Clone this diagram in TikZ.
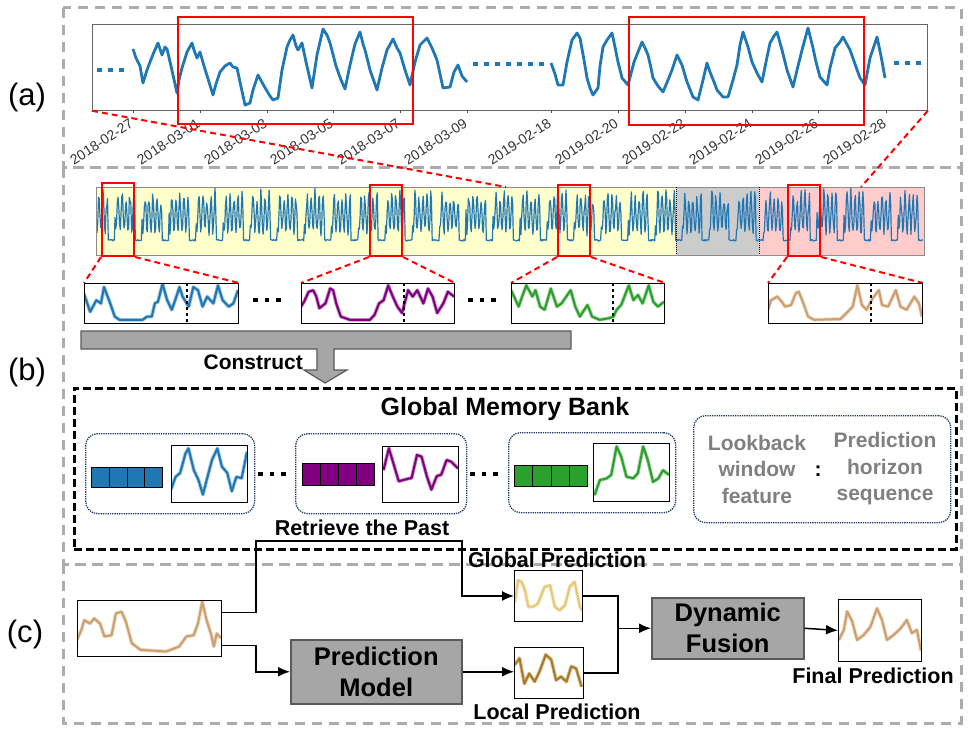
\documentclass[tikz,border=0pt]{standalone}
\usepackage{fontspec}
\setmainfont{Liberation Sans}
\usetikzlibrary{arrows.meta,calc}
\definecolor{tabblue}{RGB}{31,119,180}
\definecolor{framegray}{RGB}{172,172,172}
\definecolor{ybg}{RGB}{255,255,204}
\definecolor{gbg}{RGB}{204,204,204}
\definecolor{pbg}{RGB}{255,204,204}
\definecolor{mpurple}{RGB}{128,0,128}
\definecolor{mgreen}{RGB}{44,160,44}
\definecolor{mtan}{RGB}{205,160,110}
\definecolor{ltan}{RGB}{230,200,120}
\definecolor{dtan}{RGB}{170,122,38}
\definecolor{boxgray}{RGB}{166,166,166}
\definecolor{boxedge}{RGB}{90,90,90}
\definecolor{legray}{RGB}{128,128,128}
\definecolor{navy}{RGB}{31,56,100}
\newcommand{\tsplot}[5]{%
  \begin{scope}[shift={(#1.north west)}, x=#2pt, y=-#3pt]
    \clip (0,0) rectangle (1,1);
    \draw[#4!45, line width=3.6pt, line join=round] plot coordinates {#5};
    \draw[#4, line width=2pt, line join=round] plot coordinates {#5};
  \end{scope}}
\begin{document}
\begin{tikzpicture}[x=1pt,y=-1pt,
  frame/.style={draw=framegray, line width=3pt, dash pattern=on 10pt off 7pt},
  redbox/.style={draw=red, line width=2pt, inner sep=0pt, anchor=north west},
  reddash/.style={draw=red, line width=2pt, dash pattern=on 6pt off 4pt},
  winbox/.style={draw=black, line width=0.9pt, fill=white, inner sep=0pt, anchor=north west},
  itembox/.style={draw=navy, line width=1.3pt, densely dotted, rounded corners=12pt, inner sep=0pt, anchor=north west},
  cell/.style={draw=black, line width=1.2pt, inner sep=0pt, anchor=north west},
  graybox/.style={draw=boxedge, fill=boxgray, line width=1.5pt, inner sep=0pt, anchor=north west, align=center, font=\fontsize{25.5}{31}\selectfont\bfseries},
  lab/.style={font=\fontsize{21.5}{26}\selectfont\bfseries, inner sep=0pt},
  conn/.style={draw=black, line width=1.5pt},
  arr/.style={conn, -{Latex[length=12pt,width=10pt]}},
  bluedots/.style={draw=tabblue, line width=4.5pt, dash pattern=on 5pt off 6pt},
  blackdots/.style={draw=black, line width=4.5pt, dash pattern=on 4.5pt off 7pt},
  ticklab/.style={font=\fontsize{14}{15}\selectfont, text=black!80, rotate=33, anchor=north east, inner sep=0pt}
]
\useasboundingbox (0,0) rectangle (968,730);
\pgfmathsetseed{4242}

% ---------- outer gray frames ----------
\draw[frame] (63,8) rectangle (961,168);
\draw[frame] (63,168) rectangle (961,564);
\draw[frame] (63,564) rectangle (961,723);
\node[font=\fontsize{31}{31}\selectfont] (la) at (27,97) {(a)};
\node[font=\fontsize{31}{31}\selectfont] (lb) at (27,372) {(b)};
\node[font=\fontsize{31}{31}\selectfont] (lc) at (25,634) {(c)};

% ---------- panel (a) chart ----------
\node[draw=black!60, line width=0.8pt, inner sep=0pt, anchor=north west, minimum width=835pt, minimum height=86pt] (chart) at (92,24) {};
\draw[tabblue, line width=2.8pt, line join=round] plot coordinates {(133,49)(136,58)(140,66)(143,83)(147,70)(150,62)(154,52)(158,43)(160,49)(162,55)(165,47)(167,49)(171,66)(177,93)(179,80)(182,68)(187,52)(192,43)(194,50)(197,58)(200,52)(204,66)(209,82)(213,95)(216,84)(220,72)(225,66)(230,63)(233,67)(237,68)(240,82)(245,105)(250,103)(253,90)(258,75)(264,86)(270,96)(273,100)(278,98)(282,70)(287,47)(290,40)(293,35)(296,46)(298,50)(302,43)(306,62)(312,88)(317,55)(323,29)(327,35)(330,43)(336,66)(341,80)(345,89)(350,65)(355,44)(360,32)(363,44)(365,50)(370,70)(377,90)(382,68)(387,50)(393,39)(397,48)(400,53)(405,70)(410,85)(415,62)(420,45)(427,38)(432,48)(437,60)(443,88)(450,87)(454,72)(458,65)(462,76)(467,82)};
\draw[tabblue, line width=2.8pt, line join=round] plot coordinates {(551,63)(555,74)(558,85)(563,85)(567,62)(572,40)(577,33)(580,38)(584,60)(587,78)(590,88)(593,95)(598,88)(600,66)(603,47)(607,40)(612,33)(615,47)(618,62)(622,78)(628,85)(634,62)(642,42)(645,48)(648,55)(651,68)(653,78)(658,86)(663,92)(668,80)(672,70)(677,55)(682,65)(687,82)(693,97)(698,100)(703,80)(707,63)(710,72)(714,82)(717,90)(723,97)(728,97)(733,80)(737,65)(740,45)(743,32)(748,47)(752,62)(757,73)(762,82)(766,62)(770,43)(774,36)(777,32)(782,50)(787,70)(793,87)(798,66)(802,50)(808,28)(813,48)(816,62)(820,77)(827,85)(830,68)(835,48)(840,42)(843,37)(850,50)(855,64)(860,78)(865,85)(870,58)(877,37)(881,56)(885,78)};
\coordinate (d1a) at (97,70); \coordinate (d1b) at (130,70);
\coordinate (d2a) at (473,64); \coordinate (d2b) at (546,64);
\coordinate (d3a) at (894,63); \coordinate (d3b) at (927,63);
\draw[bluedots] (d1a) -- (d1b);
\draw[bluedots] (d2a) -- (d2b);
\draw[bluedots] (d3a) -- (d3b);
\foreach \tx/\tl [count=\n] in {133/2018-02-27,200/2018-03-01,267/2018-03-03,333/2018-03-05,400/2018-03-07,467/2018-03-09,551/2019-02-18,618/2019-02-20,685/2019-02-22,752/2019-02-24,818/2019-02-26,886/2019-02-28}{
  \draw[black!70, line width=0.6pt] (\tx,110) -- (\tx,113);
  \node[ticklab] (tk\n) at (\tx-4,118) {\tl};
}
\node[redbox, minimum width=235pt, minimum height=107pt] (cr1) at (177,16) {};
\node[redbox, minimum width=235pt, minimum height=108pt] (cr2) at (628,16) {};

% ---------- panel (b) strip ----------
\node[inner sep=0pt, anchor=north west, minimum width=828pt, minimum height=68pt] (strip) at (96,187) {};
\coordinate (sy) at (676,255); \coordinate (sg) at (759,255);
\fill[ybg] (strip.north west) rectangle (sy);
\fill[gbg] (676,187) rectangle (sg);
\fill[pbg] (759,187) rectangle (strip.south east);
\begin{scope}
\clip (strip.north west) rectangle (strip.south east);
\draw[tabblue, line width=1.2pt, line join=round] plot[domain=97:923, samples=1100, variable=\t] (\t, {241 - ((mod(\t,27) > 7) ? (5 + (28+16*rnd)*(sin(mod(\t,27)*45))^2 + 8*rnd) : (1.5*rnd))});
\end{scope}
\draw[black!45, line width=0.8pt] (strip.north west) rectangle (strip.south east);
\draw[black, line width=1pt, densely dotted] (676,187) -- (sy);
\draw[black, line width=1pt, densely dotted] (759,187) -- (sg);

\coordinate (sl) at (506,187);
\coordinate (sr) at (861,187);
\draw[reddash] (chart.south west) -- (sl);
\draw[reddash] (chart.south east) -- (sr);

\node[redbox, minimum width=32pt, minimum height=73pt] (sr1) at (101,182) {};
\node[redbox, minimum width=32pt, minimum height=71pt] (sr2) at (369,184) {};
\node[redbox, minimum width=32pt, minimum height=71pt] (sr3) at (557,184) {};
\node[redbox, minimum width=32pt, minimum height=71pt] (sr4) at (787,184) {};

\node[winbox, minimum width=154pt, minimum height=40pt] (w1) at (84,283) {};
\node[winbox, minimum width=153pt, minimum height=40pt] (w2) at (301,283) {};
\node[winbox, minimum width=153pt, minimum height=40pt] (w3) at (511,283) {};
\node[winbox, minimum width=154pt, minimum height=40pt] (w4) at (768,283) {};

\foreach \a/\b in {sr1/w1,sr2/w2,sr3/w3,sr4/w4}{
  \draw[reddash] (\a.south west) -- (\b.north west);
  \draw[reddash] (\a.south east) -- (\b.north east);
}

\tsplot{w1}{154}{40}{tabblue}{(0,0.27)(0.04,0.72)(0.08,0.43)(0.11,0.51)(0.13,0.1)(0.17,0.51)(0.2,0.84)(0.23,0.92)(0.38,0.92)(0.41,0.84)(0.44,0.84)(0.46,0.51)(0.48,0.47)(0.51,0.02)(0.54,0.43)(0.57,0.67)(0.6,0.34)(0.62,0.1)(0.64,0.34)(0.68,0.59)(0.71,0.1)(0.74,0.18)(0.77,0.59)(0.8,0.34)(0.84,0.51)(0.87,0.06)(0.9,0.43)(0.94,0.59)(0.97,0.51)(1,0.18)}
\tsplot{w2}{153}{40}{mpurple}{(0,0.59)(0.02,0.47)(0.05,0.22)(0.08,0.18)(0.1,0.34)(0.12,0.63)(0.16,0.51)(0.19,0.14)(0.21,0.18)(0.23,0.51)(0.26,0.84)(0.32,0.92)(0.45,0.92)(0.48,0.8)(0.51,0.51)(0.54,0.43)(0.57,0.06)(0.6,0.34)(0.63,0.59)(0.66,0.75)(0.7,0.18)(0.73,0.34)(0.76,0.18)(0.8,0.51)(0.83,0.14)(0.86,0.34)(0.89,0.75)(0.93,0.51)(0.96,0.22)(1,0.34)}
\tsplot{w3}{153}{40}{mgreen}{(0,0.18)(0.02,0.34)(0.05,0.59)(0.08,0.26)(0.1,0.06)(0.14,0.34)(0.16,0.18)(0.19,0.59)(0.22,0.67)(0.26,0.14)(0.3,0.59)(0.33,0.51)(0.39,0.18)(0.42,0.59)(0.45,0.84)(0.5,0.55)(0.53,0.84)(0.58,0.92)(0.64,0.88)(0.67,0.84)(0.69,0.67)(0.72,0.55)(0.77,0.06)(0.8,0.43)(0.83,0.3)(0.86,0.51)(0.9,0.06)(0.93,0.47)(0.96,0.59)(1,0.47)}
\tsplot{w4}{154}{40}{mtan}{(0,0.67)(0.02,0.43)(0.06,0.34)(0.09,0.47)(0.11,0.59)(0.15,0.55)(0.18,0.26)(0.2,0.22)(0.23,0.51)(0.26,0.84)(0.3,0.92)(0.47,0.9)(0.51,0.75)(0.55,0.59)(0.58,0.06)(0.61,0.55)(0.64,0.67)(0.68,0.38)(0.72,0.18)(0.74,0.55)(0.78,0.59)(0.83,0.18)(0.86,0.59)(0.9,0.67)(0.95,0.34)(0.98,0.51)(1,0.84)}
\foreach \w/\dx in {w1/103,w2/103,w3/102,w4/103}{
  \draw[black, line width=1.2pt, dashed] ([xshift=\dx pt]\w.north west) -- ([xshift=\dx pt]\w.south west);
}
\node[winbox, fill=none, minimum width=154pt, minimum height=40pt] at (84,283) {};
\node[winbox, fill=none, minimum width=153pt, minimum height=40pt] at (301,283) {};
\node[winbox, fill=none, minimum width=153pt, minimum height=40pt] at (511,283) {};
\node[winbox, fill=none, minimum width=154pt, minimum height=40pt] at (768,283) {};

\coordinate (e1a) at (253,300); \coordinate (e1b) at (287,300);
\coordinate (e2a) at (468,300); \coordinate (e2b) at (502,300);
\draw[blackdots] (e1a) -- (e1b);
\draw[blackdots] (e2a) -- (e2b);

% Construct arrow
\draw[draw=boxedge, fill=boxgray, line width=1.2pt] (81,331) -- (571,331) -- (571,349) -- (334,349) -- (334,370) -- (347,370) -- (325,383) -- (304,370) -- (317,370) -- (317,349) -- (81,349) -- cycle;
\node[font=\fontsize{21}{21}\selectfont\bfseries, anchor=base east, inner sep=0pt] (cons) at (303,369) {Construct};

% Global memory bank
\node[draw=black, line width=2.5pt, dash pattern=on 8pt off 4pt, inner sep=0pt, anchor=north west, minimum width=882pt, minimum height=161pt] (mb) at (73,387) {};
\node[font=\fontsize{25}{25}\selectfont\bfseries, anchor=base, inner sep=0pt] (mbt) at (505,415) {Global Memory Bank};

\node[itembox, minimum width=169pt, minimum height=80pt] (m1) at (85,433) {};
\node[itembox, minimum width=171pt, minimum height=80pt] (m2) at (295,433) {};
\node[itembox, minimum width=167pt, minimum height=80pt] (m3) at (508,432) {};
\node[itembox, minimum width=257pt, minimum height=107pt] (leg) at (693,415) {};

\foreach \i in {0,1,2,3}{
  \node[cell, fill=tabblue, minimum width=17.75pt, minimum height=20pt] (fa\i) at (91+\i*17.75,467) {};
  \node[cell, fill=mpurple, minimum width=18pt, minimum height=22pt] (fb\i) at (302+\i*18,463) {};
  \node[cell, fill=mgreen, minimum width=18.25pt, minimum height=21pt] (fc\i) at (514+\i*18.25,465) {};
}
\node[winbox, minimum width=76pt, minimum height=57pt] (s1) at (171,445) {};
\node[winbox, minimum width=76pt, minimum height=56pt] (s2) at (382,446) {};
\node[winbox, minimum width=76pt, minimum height=58pt] (s3) at (593,443) {};
\tsplot{s1}{76}{57}{tabblue}{(0,0.78)(0.06,0.56)(0.12,0.49)(0.19,0.15)(0.23,0.06)(0.3,0.44)(0.36,0.61)(0.42,0.87)(0.47,0.61)(0.54,0.26)(0.61,0.06)(0.67,0.38)(0.74,0.49)(0.8,0.81)(0.86,0.56)(0.93,0.58)(1,0.12)}
\tsplot{s2}{76}{56}{mpurple}{(0.02,0.43)(0.09,0.04)(0.15,0.31)(0.22,0.63)(0.3,0.6)(0.39,0.57)(0.46,0.16)(0.52,0.19)(0.59,0.54)(0.65,0.78)(0.72,0.54)(0.78,0.51)(0.85,0.25)(0.91,0.28)(1,0.4)}
\tsplot{s3}{76}{58}{mgreen}{(0.02,0.9)(0.09,0.64)(0.18,0.61)(0.24,0.55)(0.31,0.06)(0.37,0.23)(0.44,0.58)(0.53,0.61)(0.59,0.52)(0.66,0.06)(0.72,0.29)(0.79,0.67)(0.86,0.61)(0.92,0.47)(1,0.55)}
\node[winbox, fill=none, minimum width=76pt, minimum height=57pt] at (171,445) {};
\node[winbox, fill=none, minimum width=76pt, minimum height=56pt] at (382,446) {};
\node[winbox, fill=none, minimum width=76pt, minimum height=58pt] at (593,443) {};

\coordinate (g1a) at (258,474); \coordinate (g1b) at (292,474);
\coordinate (g2a) at (470,474); \coordinate (g2b) at (504,474);
\draw[blackdots] (g1a) -- (g1b);
\draw[blackdots] (g2a) -- (g2b);

\node[font=\fontsize{21}{26.5}\selectfont\bfseries, text=legray, align=center] (lk) at (757,469) {Lookback\\window\\feature};
\node[font=\fontsize{21}{21}\selectfont\bfseries, text=black] (colon) at (818,471) {:};
\node[font=\fontsize{21}{26.5}\selectfont\bfseries, text=legray, align=center] (ph) at (885,469) {Prediction\\horizon\\sequence};

% ---------- panel (c) ----------
\node[winbox, minimum width=144pt, minimum height=56pt] (inp) at (77,600) {};
\tsplot{inp}{144}{56}{mtan}{(0,0.71)(0.03,0.54)(0.05,0.36)(0.09,0.42)(0.12,0.33)(0.16,0.42)(0.19,0.65)(0.24,0.63)(0.27,0.24)(0.31,0.21)(0.34,0.39)(0.38,0.77)(0.44,0.89)(0.62,0.92)(0.71,0.83)(0.76,0.65)(0.81,0.63)(0.84,0.42)(0.87,0.03)(0.9,0.36)(0.93,0.6)(0.95,0.83)(0.97,0.6)(1,0.68)}
\node[winbox, fill=none, minimum width=144pt, minimum height=56pt] at (77,600) {};

\node[winbox, minimum width=68pt, minimum height=51pt] (gp) at (514,570) {};
\tsplot{gp}{68}{51}{ltan}{(0.01,0.63)(0.06,0.2)(0.11,0.23)(0.16,0.39)(0.21,0.72)(0.28,0.72)(0.35,0.66)(0.45,0.33)(0.53,0.3)(0.6,0.72)(0.67,0.79)(0.75,0.69)(0.82,0.33)(0.89,0.23)(0.97,0.72)(1,0.79)}
\node[winbox, fill=none, minimum width=68pt, minimum height=51pt] at (514,570) {};

\node[winbox, minimum width=69pt, minimum height=51pt] (lp) at (514,647) {};
\tsplot{lp}{69}{51}{dtan}{(0.01,0.35)(0.08,0.22)(0.15,0.72)(0.22,0.52)(0.3,0.68)(0.37,0.48)(0.46,0.15)(0.54,0.25)(0.61,0.65)(0.68,0.58)(0.76,0.68)(0.83,0.38)(0.9,0.42)(0.98,0.78)}
\node[winbox, fill=none, minimum width=69pt, minimum height=51pt] at (514,647) {};

\node[winbox, minimum width=83pt, minimum height=62pt] (fp) at (838,599) {};
\tsplot{fp}{83}{62}{mtan}{(0.01,0.66)(0.07,0.5)(0.11,0.2)(0.17,0.36)(0.23,0.66)(0.31,0.58)(0.39,0.45)(0.47,0.15)(0.53,0.34)(0.59,0.66)(0.67,0.58)(0.75,0.48)(0.83,0.34)(0.89,0.55)(0.95,0.5)(1,0.83)}
\node[winbox, fill=none, minimum width=83pt, minimum height=62pt] at (838,599) {};

\node[graybox, minimum width=171pt, minimum height=64pt] (pm) at (290,639) {Prediction\\Model};
\node[graybox, minimum width=152pt, minimum height=61pt] (df) at (651,597) {Dynamic\\Fusion};

\node[lab, anchor=base] (rtp) at (362,535) {Retrieve the Past};
\node[lab, anchor=base] (gpl) at (557,567) {Global Prediction};
\node[lab, anchor=base] (lpl) at (557,719) {Local Prediction};
\node[lab, anchor=base] (fpl) at (873,683) {Final Prediction};

\coordinate (rt) at (462,541);
\draw[arr] ([yshift=16pt]inp.east) -- ++(34,0) |- (rt) |- (gp.west);
\draw[arr] ([yshift=-17pt]inp.east) -- ++(34,0) |- (pm.west);
\draw[arr] (pm.east) -- (pm.east -| lp.west);
\coordinate (jn) at ($(gp.east)+(35,0)$);
\draw[conn] (gp.east) -- (jn) |- (lp.east);
\draw[arr] (jn |- df.west) -- (df.west);
\draw[arr] (df.east) -- (fp.west);
\end{tikzpicture}
\end{document}
